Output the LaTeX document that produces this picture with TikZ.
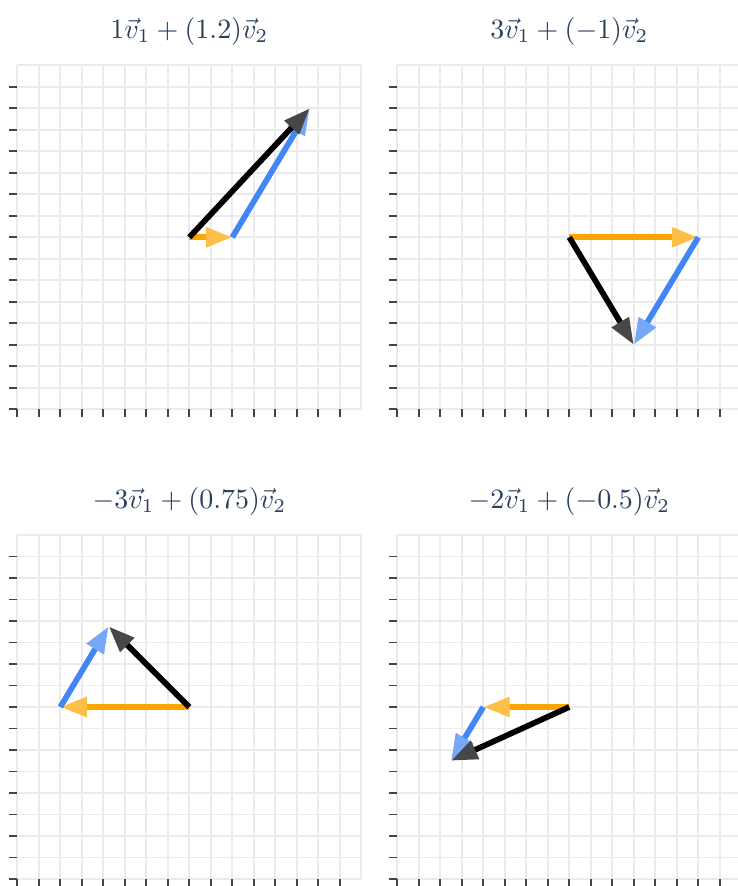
\documentclass[tikz,border=0pt]{standalone}
\usepackage{amsmath}
\usepackage{xcolor}
\usepackage{tikz}
\usetikzlibrary{arrows.meta}
\definecolor{cGrid}{HTML}{EBEBEB}
\definecolor{cTick}{HTML}{444444}
\definecolor{cTitle}{HTML}{2A3F5F}
\definecolor{cOne}{HTML}{FFA500}
\definecolor{cTwo}{HTML}{4285F4}
\definecolor{cSum}{HTML}{000000}
\tikzset{
  gridln/.style ={draw=cGrid, line width=1.1pt, step=1},
  tickln/.style ={draw=cTick, line width=1.1pt},
  ttl/.style    ={scale=1.85, transform shape, text=cTitle, inner sep=0pt},
  vec/.style    ={line width=3.8pt, draw=#1,
                  -{Triangle[length=17.5pt,width=12.5pt,color=#1!72!white]}},
  plane/.pic    ={
    \draw[gridln] (-8,-8) grid (8,8);
    \foreach \k in {-8,...,7}{
      \draw[tickln] (-8,\k) -- ++(-5.3pt,0);
      \draw[tickln] (\k,-8) -- ++(0,-5.3pt);
    }
  },
}

\begin{document}
\begin{tikzpicture}[x=5mm,y=5mm]
  \clip (0,0) rectangle (34.326,-41.21);

  % 1 v1 + 1.2 v2
  \begin{scope}[shift={(8.805,-11.037)}]
    \pic {plane};
    \node[ttl] (t1) at (0,9.56) {$1\vec{v}_1 + (1.2)\vec{v}_2$};
    \coordinate (o1) at (0,0);
    \coordinate (a1) at (2,0);
    \coordinate (b1) at (5.6,6);
    \draw[vec=cOne] (o1) -- (a1);
    \draw[vec=cTwo] (a1) -- (b1);
    \draw[vec=cSum] (o1) -- (b1);
  \end{scope}

  % 3 v1 - v2
  \begin{scope}[shift={(26.479,-11.037)}]
    \pic {plane};
    \node[ttl] (t2) at (0,9.56) {$3\vec{v}_1 + (-1)\vec{v}_2$};
    \coordinate (o2) at (0,0);
    \coordinate (a2) at (6,0);
    \coordinate (b2) at (3,-5);
    \draw[vec=cOne] (o2) -- (a2);
    \draw[vec=cTwo] (a2) -- (b2);
    \draw[vec=cSum] (o2) -- (b2);
  \end{scope}

  % -3 v1 + 0.75 v2
  \begin{scope}[shift={(8.805,-32.884)}]
    \pic {plane};
    \node[ttl] (t3) at (0,9.56) {$-3\vec{v}_1 + (0.75)\vec{v}_2$};
    \coordinate (o3) at (0,0);
    \coordinate (a3) at (-6,0);
    \coordinate (b3) at (-3.75,3.75);
    \draw[vec=cOne] (o3) -- (a3);
    \draw[vec=cTwo] (a3) -- (b3);
    \draw[vec=cSum] (o3) -- (b3);
  \end{scope}

  % -2 v1 - 0.5 v2
  \begin{scope}[shift={(26.479,-32.884)}]
    \pic {plane};
    \node[ttl] (t4) at (0,9.56) {$-2\vec{v}_1 + (-0.5)\vec{v}_2$};
    \coordinate (o4) at (0,0);
    \coordinate (a4) at (-4,0);
    \coordinate (b4) at (-5.5,-2.5);
    \draw[vec=cOne] (o4) -- (a4);
    \draw[vec=cTwo] (a4) -- (b4);
    \draw[vec=cSum] (o4) -- (b4);
  \end{scope}
\end{tikzpicture}
\end{document}
